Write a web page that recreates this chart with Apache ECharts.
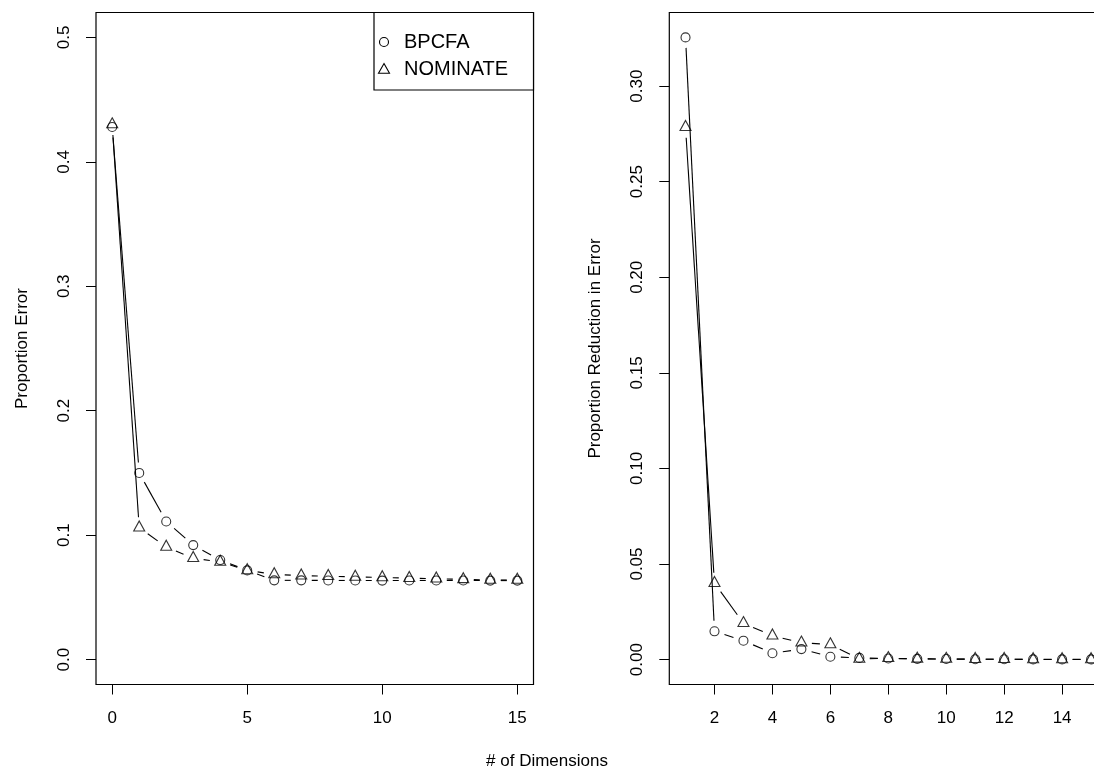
<!DOCTYPE html>
<html>
<head>
<meta charset="utf-8">
<title># of Dimensions</title>
<script src="https://cdn.jsdelivr.net/npm/echarts@6/dist/echarts.min.js"></script>
<style>
  html, body { margin: 0; padding: 0; background: #fff; }
  #chart { width: 1094px; height: 772px; }
</style>
</head>
<body>
<div id="chart"></div>
<script>
// Left panel: proportion of errors by number of dimensions
const dimsErr = [0, 1, 2, 3, 4, 5, 6, 7, 8, 9, 10, 11, 12, 13, 14, 15];
const bpcfaErr = [0.428, 0.150, 0.111, 0.092, 0.080, 0.0717, 0.0637, 0.0637, 0.0636, 0.0636, 0.0635, 0.0636, 0.0636, 0.0636, 0.0635, 0.0635];
const nominateErr = [0.430, 0.106, 0.0905, 0.0815, 0.0785, 0.0717, 0.0685, 0.0675, 0.067, 0.0665, 0.066, 0.0655, 0.065, 0.0645, 0.064, 0.064];

// Right panel: proportion reduction in error from each added dimension
const dimsPRE = [1, 2, 3, 4, 5, 6, 7, 8, 9, 10, 11, 12, 13, 14, 15];
const bpcfaPRE = [0.3255, 0.0148, 0.0099, 0.0033, 0.0055, 0.0015, 0.0009, 0.0006, 0.0004, 0.0003, 0.0002, 0.0002, 0.0001, 0.0001, 0.0001];
const nominatePRE = [0.2785, 0.0400, 0.0190, 0.0125, 0.0088, 0.0079, 0.0003, 0.0007, 0.0004, 0.0003, 0.0002, 0.0002, 0.0001, 0.0001, 0.0001];

// Tick positions
const errXTicks = [0, 5, 10, 15];
const errYTicks = [0, 0.1, 0.2, 0.3, 0.4, 0.5];
const preXTicks = [2, 4, 6, 8, 10, 12, 14];
const preYTicks = [0, 0.05, 0.10, 0.15, 0.20, 0.25, 0.30];

const FONT = '"Liberation Sans", Arial, Helvetica, sans-serif';
const FS = 17;
const LEGEND_FS = 20;
const GAP = 10.5; // gap left between a segment end and its point marker

// Padded range (4% each side), like a base-graphics plot
function padded(lo, hi) {
  const d = (hi - lo) * 0.04;
  return [lo - d, hi + d];
}
const errX = padded(0, 15);
const errY = padded(0, 0.5);
const preX = padded(Math.min(...dimsPRE), Math.max(...dimsPRE));
const preY = padded(0, Math.max(...bpcfaPRE, ...nominatePRE));

function segments(xs, ys) {
  const out = [];
  for (let i = 0; i + 1 < xs.length; i++) out.push([xs[i], ys[i], xs[i + 1], ys[i + 1]]);
  return out;
}
function pairs(xs, ys) { return xs.map((x, i) => [x, ys[i]]); }

// Connecting segments with a gap around each marker
function gappedLine(params, api) {
  const a = api.coord([api.value(0), api.value(1)]);
  const b = api.coord([api.value(2), api.value(3)]);
  const dx = b[0] - a[0], dy = b[1] - a[1];
  const len = Math.hypot(dx, dy);
  if (len <= 2 * GAP) return null;
  const ux = dx / len, uy = dy / len;
  return {
    type: 'line',
    shape: { x1: a[0] + ux * GAP, y1: a[1] + uy * GAP, x2: b[0] - ux * GAP, y2: b[1] - uy * GAP },
    style: { stroke: '#000', lineWidth: 1.1 }
  };
}

function lineSeries(name, xi, xs, ys) {
  return {
    type: 'custom', name: name, xAxisIndex: xi, yAxisIndex: xi,
    renderItem: gappedLine, clip: false, silent: true,
    encode: { x: [0, 2], y: [1, 3] },
    data: segments(xs, ys)
  };
}
const hollowStyle = { color: 'rgba(0,0,0,0)', borderColor: '#000', borderWidth: 1.1 };
function circleSeries(name, xi, xs, ys) {
  return {
    type: 'scatter', name: name, xAxisIndex: xi, yAxisIndex: xi,
    symbol: 'circle', symbolSize: 9, itemStyle: hollowStyle, silent: true,
    data: pairs(xs, ys), z: 3
  };
}
function triangleSeries(name, xi, xs, ys) {
  return {
    type: 'scatter', name: name, xAxisIndex: xi, yAxisIndex: xi,
    symbol: 'triangle', symbolSize: [11, 10], symbolOffset: [0, -1.7],
    itemStyle: hollowStyle, silent: true,
    data: pairs(xs, ys), z: 3
  };
}

function xAxis(gi, range, ticks) {
  return {
    type: 'value', gridIndex: gi, min: range[0], max: range[1], position: 'bottom',
    axisLine: { show: false, onZero: false },
    splitLine: { show: false },
    axisTick: { show: true, inside: false, length: 10, customValues: ticks, lineStyle: { color: '#000', width: 1 } },
    axisLabel: { customValues: ticks, margin: 25, color: '#000', fontFamily: FONT, fontSize: FS,
                 formatter: v => String(v) }
  };
}
function yAxis(gi, range, ticks, digits) {
  return {
    type: 'value', gridIndex: gi, min: range[0], max: range[1], position: 'left',
    axisLine: { show: false, onZero: false },
    splitLine: { show: false },
    axisTick: { show: true, inside: false, length: 10, customValues: ticks, lineStyle: { color: '#000', width: 1 } },
    axisLabel: { customValues: ticks, margin: 23, rotate: 90, color: '#000', fontFamily: FONT, fontSize: FS,
                 formatter: v => Number(v).toFixed(digits) }
  };
}

const gridBase = { show: true, borderColor: '#000', borderWidth: 1.2, backgroundColor: 'rgba(0,0,0,0)',
                   containLabel: false, outerBoundsMode: 'none' };

const chart = echarts.init(document.getElementById('chart'), null, { renderer: 'canvas' });
chart.setOption({
  animation: false,
  backgroundColor: '#fff',
  grid: [
    Object.assign({ left: 96, top: 12.5, width: 437.5, height: 672 }, gridBase),
    Object.assign({ left: 669.3, top: 12.5, width: 438, height: 672 }, gridBase)
  ],
  xAxis: [xAxis(0, errX, errXTicks), xAxis(1, preX, preXTicks)],
  yAxis: [yAxis(0, errY, errYTicks, 1), yAxis(1, preY, preYTicks, 2)],
  series: [
    lineSeries('BPCFA', 0, dimsErr, bpcfaErr),
    lineSeries('NOMINATE', 0, dimsErr, nominateErr),
    circleSeries('BPCFA', 0, dimsErr, bpcfaErr),
    triangleSeries('NOMINATE', 0, dimsErr, nominateErr),
    lineSeries('BPCFA', 1, dimsPRE, bpcfaPRE),
    lineSeries('NOMINATE', 1, dimsPRE, nominatePRE),
    circleSeries('BPCFA', 1, dimsPRE, bpcfaPRE),
    triangleSeries('NOMINATE', 1, dimsPRE, nominatePRE)
  ],
  graphic: [
    // axis titles
    { type: 'text', x: 22.7, y: 348.5, rotation: Math.PI / 2,
      style: { text: 'Proportion Error', font: FS + 'px ' + FONT, fill: '#000', align: 'center', verticalAlign: 'middle' } },
    { type: 'text', x: 595, y: 348.5, rotation: Math.PI / 2,
      style: { text: 'Proportion Reduction in Error', font: FS + 'px ' + FONT, fill: '#000', align: 'center', verticalAlign: 'middle' } },
    { type: 'text', x: 547, y: 761,
      style: { text: '# of Dimensions', font: FS + 'px ' + FONT, fill: '#000', align: 'center', verticalAlign: 'middle' } },
    // legend box in the top-right corner of the left panel
    { type: 'group', z: 10, children: [
      { type: 'rect', shape: { x: 374, y: 12.5, width: 159.5, height: 77.5 },
        style: { fill: '#fff', stroke: '#000', lineWidth: 1.2 } },
      { type: 'circle', shape: { cx: 384, cy: 42, r: 4.5 },
        style: { fill: 'none', stroke: '#000', lineWidth: 1.1 } },
      { type: 'polygon', shape: { points: [[384, 63.5], [389.5, 73.3], [378.5, 73.3]] },
        style: { fill: 'none', stroke: '#000', lineWidth: 1.1 } },
      { type: 'text', x: 404, y: 42,
        style: { text: 'BPCFA', font: LEGEND_FS + 'px ' + FONT, fill: '#000', align: 'left', verticalAlign: 'middle' } },
      { type: 'text', x: 404, y: 69,
        style: { text: 'NOMINATE', font: LEGEND_FS + 'px ' + FONT, fill: '#000', align: 'left', verticalAlign: 'middle' } }
    ] }
  ]
});
</script>
</body>
</html>
